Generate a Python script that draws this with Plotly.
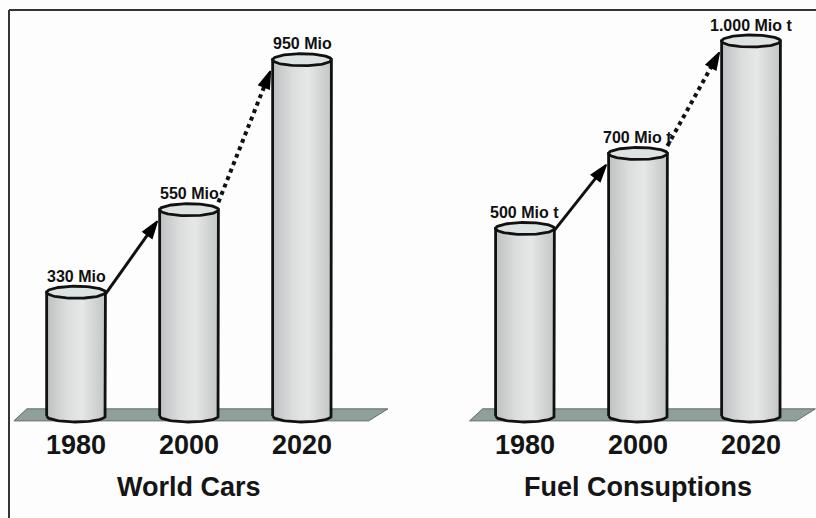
import numpy as np
import plotly.graph_objects as go

# ---- data ----
years = ["1980", "2000", "2020"]
cars_mio = [330, 550, 950]
cars_labels = ["330 Mio", "550 Mio", "950 Mio"]
fuel_mio_t = [500, 700, 1000]
fuel_labels = ["500 Mio t", "700 Mio t", "1.000 Mio t"]
panel_titles = ["World Cars", "Fuel Consuptions"]

# ---- styling ----
HALF_W = 0.26          # cylinder half width (x units)
ELL_H = 16             # ellipse half height (y units)
EDGE = "#111111"
FLOOR_FILL = "#8fa09b"
FONT = "Liberation Sans, Arial, sans-serif"

fig = go.Figure()


def floor(xaxis, x0, x1):
    xs = [x0, x0 + 0.115, x1 + 0.17, x1, x0]
    ys = [-13, 19, 19, -13, -13]
    fig.add_trace(go.Scatter(x=xs, y=ys, xaxis=xaxis, yaxis="y", mode="lines",
                             fill="toself", fillcolor=FLOOR_FILL,
                             line=dict(color="#5d6a66", width=1),
                             hoverinfo="skip", showlegend=False))


def cylinder(xaxis, xc, v):
    t = np.linspace(0, np.pi, 40)
    # body: left side up, right side down, bottom front half-ellipse back
    bx = [xc - HALF_W, xc - HALF_W, xc + HALF_W, xc + HALF_W]
    by = [0, v, v, 0]
    bx += list(xc + HALF_W * np.cos(t))
    by += list(-ELL_H * np.sin(t))
    fig.add_trace(go.Scatter(
        x=bx, y=by, xaxis=xaxis, yaxis="y", mode="lines", fill="toself",
        fillgradient=dict(type="horizontal",
                          colorscale=[[0, "#bec1c1"], [0.35, "#dcdede"],
                                      [0.6, "#e6e7e7"], [1, "#c3c6c6"]]),
        line=dict(color=EDGE, width=2.8), hoverinfo="skip", showlegend=False))
    # top ellipse
    t2 = np.linspace(0, 2 * np.pi, 80)
    fig.add_trace(go.Scatter(
        x=xc + HALF_W * np.cos(t2), y=v + ELL_H * np.sin(t2),
        xaxis=xaxis, yaxis="y", mode="lines", fill="toself",
        fillcolor="#dde2e3", line=dict(color=EDGE, width=2.8),
        hoverinfo="skip", showlegend=False))


def arrow(xaxis, x0, y0, x1, y1, dash):
    fig.add_trace(go.Scatter(
        x=[x0, x1], y=[y0, y1], xaxis=xaxis, yaxis="y", mode="lines+markers",
        line=dict(color=EDGE, width=3 if dash == "solid" else 4, dash=dash),
        marker=dict(symbol=["circle", "arrow"], size=[0, 18], color="#000",
                    opacity=1, angleref="previous",
                    line=dict(width=1.5, color="#000")),
        hoverinfo="skip", showlegend=False))


panels = [("x", cars_mio, cars_labels), ("x2", fuel_mio_t, fuel_labels)]
annotations = []
for p, (xa, vals, labels) in enumerate(panels):
    idx = list(range(len(years)))
    if p == 0:
        floor(xa, -0.55, 2.59)
    else:
        floor(xa, -0.49, 2.40)
    for i, v in zip(idx, vals):
        cylinder(xa, i, v)
    # growth arrows: first solid, second dotted (forecast)
    for i in idx[:-1]:
        dash = "solid" if i == 0 else "dot"
        y0 = vals[i] - 5 if i == 0 else vals[i] + 20
        arrow(xa, i + HALF_W, y0, i + 1 - HALF_W - 0.02, vals[i + 1] - 30, dash)
    xref = "x" if xa == "x" else "x2"
    for i, v, lab in zip(idx, vals, labels):
        annotations.append(dict(x=i, y=v + 42, xref=xref, yref="y",
                                text=f"<b>{lab}</b>", showarrow=False,
                                font=dict(family=FONT, size=16, color="#111")))
        annotations.append(dict(x=i, y=-77, xref=xref, yref="y",
                                text=f"<b>{years[i]}</b>", showarrow=False,
                                font=dict(family=FONT, size=27, color="#151515")))
    annotations.append(dict(x=1, y=-189, xref=xref, yref="y",
                            text=f"<b>{panel_titles[p]}</b>", showarrow=False,
                            font=dict(family=FONT, size=27, color="#151515")))

axis_common = dict(visible=False, fixedrange=True)
fig.update_layout(
    width=816, height=518,
    margin=dict(l=0, r=0, t=0, b=0),
    paper_bgcolor="#fdfdfd", plot_bgcolor="rgba(0,0,0,0)",
    xaxis=dict(domain=[0, 0.5], range=[-0.673, 2.938], anchor="y", **axis_common),
    xaxis2=dict(domain=[0.5, 1], range=[-1.035, 2.575], anchor="y", **axis_common),
    yaxis=dict(domain=[0, 1], range=[-272, 1109.3], **axis_common),
    annotations=annotations,
    shapes=[
        dict(type="line", xref="paper", yref="paper", x0=9 / 816, x1=1,
             y0=1 - 10 / 518, y1=1 - 10 / 518, line=dict(color="#333", width=2)),
        dict(type="line", xref="paper", yref="paper", x0=9 / 816, x1=9 / 816,
             y0=0, y1=1 - 10 / 518, line=dict(color="#333", width=2)),
    ],
    showlegend=False,
)

fig.write_html("out.html")
